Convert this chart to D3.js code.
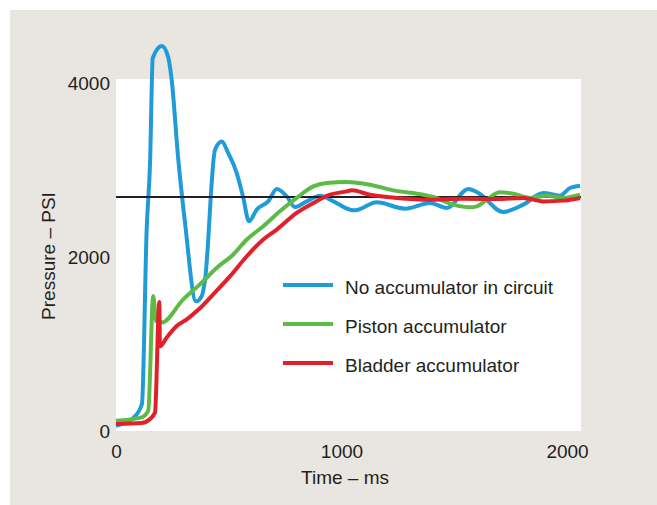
<!DOCTYPE html>
<html>
<head>
<meta charset="utf-8">
<script src="https://cdn.jsdelivr.net/npm/d3@7"></script>
<style>
  body { margin: 0; background: #fff; }
  svg { display: block; font-family: "Liberation Sans", Arial, sans-serif; }
</style>
</head>
<body>
<div id="chart"></div>
<script>
// time (ms) / pressure (psi)
const noAccTime = [0, 71, 115, 136, 151, 163, 203, 231, 247, 275, 306, 355, 380, 395, 439, 469, 497, 535, 563, 590, 624, 675, 713, 757, 794, 846, 905, 964, 1038, 1060, 1156, 1282, 1392, 1467, 1562, 1607, 1717, 1806, 1895, 1969, 2013, 2058];
const noAccPsi = [61, 138, 310, 2315, 3083, 4287, 4424, 4301, 4034, 3155, 2395, 1490, 1551, 1742, 3232, 3327, 3198, 2968, 2697, 2410, 2544, 2640, 2782, 2697, 2575, 2640, 2705, 2640, 2544, 2536, 2628, 2556, 2621, 2564, 2782, 2736, 2518, 2602, 2736, 2705, 2793, 2819];

const pistonTime = [0, 114, 143, 165, 177, 203, 298, 372, 447, 520, 580, 653, 727, 801, 875, 934, 1023, 1126, 1230, 1363, 1407, 1496, 1570, 1600, 1644, 1703, 1762, 1836, 1910, 1984, 2058];
const pistonPsi = [118, 157, 233, 1551, 1261, 1246, 1513, 1685, 1876, 2029, 2201, 2353, 2525, 2679, 2811, 2850, 2862, 2831, 2766, 2716, 2690, 2602, 2571, 2582, 2659, 2743, 2728, 2679, 2705, 2679, 2716];

const bladderTime = [0, 114, 151, 173, 192, 195, 225, 269, 314, 372, 431, 506, 580, 653, 713, 801, 875, 949, 1023, 1045, 1126, 1245, 1392, 1540, 1688, 1806, 1895, 1984, 2058];
const bladderPsi = [80, 92, 138, 214, 1482, 974, 1074, 1207, 1284, 1410, 1570, 1780, 2009, 2201, 2315, 2507, 2621, 2716, 2754, 2766, 2716, 2679, 2659, 2670, 2667, 2679, 2639, 2648, 2679];

const seriesNames = ['No accumulator in circuit', 'Piston accumulator', 'Bladder accumulator'];
const seriesColors = ['#1f9bd7', '#5dba47', '#e2202a'];
const setPressure = 2690;

const xTicks = [0, 1000, 2000];
const yTicks = [0, 2000, 4000];

const W = 657, H = 505;
const margin = { top: 79, left: 116 };
const width = 465, height = 352;

const svg = d3.select('#chart').append('svg')
  .attr('width', W)
  .attr('height', H);

// grey panel
svg.append('rect')
  .attr('x', 10).attr('y', 10)
  .attr('width', W - 10).attr('height', H - 10)
  .attr('fill', '#e9e6e1');

const g = svg.append('g')
  .attr('transform', `translate(${margin.left},${margin.top})`);

g.append('rect')
  .attr('width', width)
  .attr('height', height)
  .attr('fill', '#fff');

const x = d3.scaleLinear().domain([0, 2062]).range([0, width]);
const y = d3.scaleLinear().domain([0, 4046]).range([height, 0]);

const xAxis = g.append('g')
  .attr('transform', `translate(0,${height})`)
  .call(d3.axisBottom(x).tickValues(xTicks).tickFormat(d3.format('d')).tickSize(0).tickPadding(14));

const yAxis = g.append('g')
  .call(d3.axisLeft(y).tickValues(yTicks).tickFormat(d3.format('d')).tickSize(0).tickPadding(6));

[xAxis, yAxis].forEach(a => {
  a.select('.domain').remove();
  a.selectAll('text')
    .style('font-family', '"Liberation Sans", Arial, sans-serif')
    .style('font-size', '19px')
    .attr('fill', '#231f20');
});

// axis titles
svg.append('text')
  .attr('x', 345)
  .attr('y', 484)
  .attr('text-anchor', 'middle')
  .style('font-size', '19px')
  .attr('fill', '#231f20')
  .text('Time – ms');

svg.append('text')
  .attr('transform', 'translate(55,256) rotate(-90)')
  .attr('text-anchor', 'middle')
  .style('font-size', '19px')
  .attr('fill', '#231f20')
  .text('Pressure – PSI');

const series = [
  noAccTime.map((t, i) => ({ t, p: noAccPsi[i] })),
  pistonTime.map((t, i) => ({ t, p: pistonPsi[i] })),
  bladderTime.map((t, i) => ({ t, p: bladderPsi[i] }))
];

const line = d3.line()
  .x(d => x(d.t))
  .y(d => y(d.p))
  .curve(d3.curveMonotoneX);

function drawSeries(i) {
  g.append('path')
    .datum(series[i])
    .attr('d', line)
    .attr('fill', 'none')
    .attr('stroke', seriesColors[i])
    .attr('stroke-width', 4)
    .attr('stroke-linejoin', 'round');
}

drawSeries(0);

// reference line
g.append('line')
  .attr('x1', 0)
  .attr('x2', width)
  .attr('y1', y(setPressure))
  .attr('y2', y(setPressure))
  .attr('stroke', '#231f20')
  .attr('stroke-width', 2);

drawSeries(1);
drawSeries(2);

// legend
const legend = svg.append('g');
seriesNames.forEach((name, i) => {
  const ly = 285 + i * 39;
  legend.append('line')
    .attr('x1', 283).attr('x2', 333)
    .attr('y1', ly).attr('y2', ly)
    .attr('stroke', seriesColors[i])
    .attr('stroke-width', 4);
  legend.append('text')
    .attr('x', 345)
    .attr('y', ly + 9)
    .style('font-size', '19px')
    .attr('fill', '#231f20')
    .text(name);
});
</script>
</body>
</html>
